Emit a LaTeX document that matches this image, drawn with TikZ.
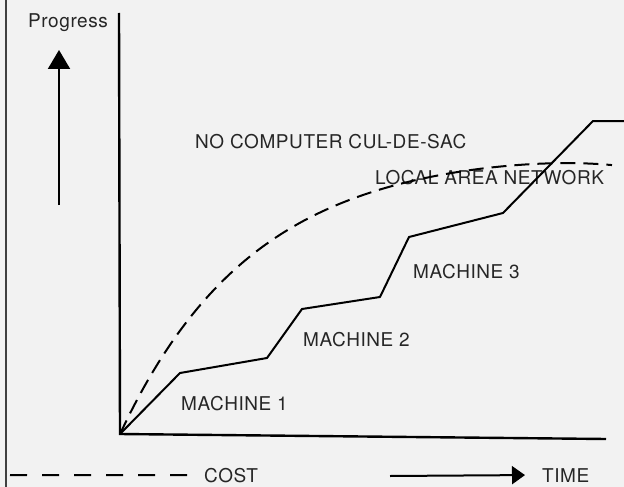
\documentclass[tikz,border=0pt]{standalone}
\usepackage{fontspec}
\setmainfont{TeX Gyre Heros}[LetterSpace=3]
\usetikzlibrary{arrows.meta, positioning}

\begin{document}
\begin{tikzpicture}[
  x=1pt, y=-1pt,
  lbl/.style={font=\fontsize{19}{22}\selectfont, text=black!85, inner sep=0pt, anchor=base west},
  axis/.style={line width=2.4pt},
  curve/.style={line width=2pt, line join=round},
  cost/.style={line width=2pt, dash pattern=on 15pt off 8pt},
  arrow/.style={-{Triangle[length=19pt, width=22pt]}, line width=2pt},
]
\fill[black!5] (0,0) rectangle (624,487);
\useasboundingbox (0,0) rectangle (624,487);
\draw[line width=2.5pt, black!75] (6,0) -- (6,487);

% axes
\coordinate (origin) at (120,434);
\coordinate (ytop) at (119,13);
\coordinate (xend) at (606,439);
\draw[axis] (ytop) -- (origin) -- (xend);

% labels
\node[lbl] (cds) at (195,148) {NO COMPUTER CUL-DE-SAC};
\node[lbl] (lan) at (375,184) {LOCAL AREA NETWORK};
\node[lbl] (m3) at (413,278) {MACHINE 3};
\node[lbl] (m2) at (303,346) {MACHINE 2};
\node[lbl] (m1) at (181,410) {MACHINE 1};
\node[lbl] (progress) at (28,28) {Progress};
\node[lbl] (costlbl) at (204,482) {COST};
\node[lbl] (time) at (542,482) {TIME};

% progress of the machines and of the network
\draw[curve] (origin) -- (180,373) -- (267,358) -- (302,309) -- (380,297)
  -- (409,237) -- (503,213) -- (593,121) -- (624,121);
\draw[curve, cost] plot[smooth, domain=120:612, samples=50]
  (\x, {434-285*(1-exp(-0.0075*(\x-120)))+9*((\x-120)/492)^8});

% legend
\coordinate (pstart) at (59,205);
\coordinate (ptip) at (59,50);
\draw[arrow] (pstart) -- (ptip);
\coordinate (dstart) at (10,475);
\draw[cost, dash pattern=on 17pt off 15pt] (dstart) -- ([xshift=-17pt]costlbl.west);
\coordinate (tstart) at (390,476);
\draw[arrow, -{Triangle[length=13pt, width=18pt]}] (tstart) -- ([xshift=-17pt]time.west);
\end{tikzpicture}
\end{document}
